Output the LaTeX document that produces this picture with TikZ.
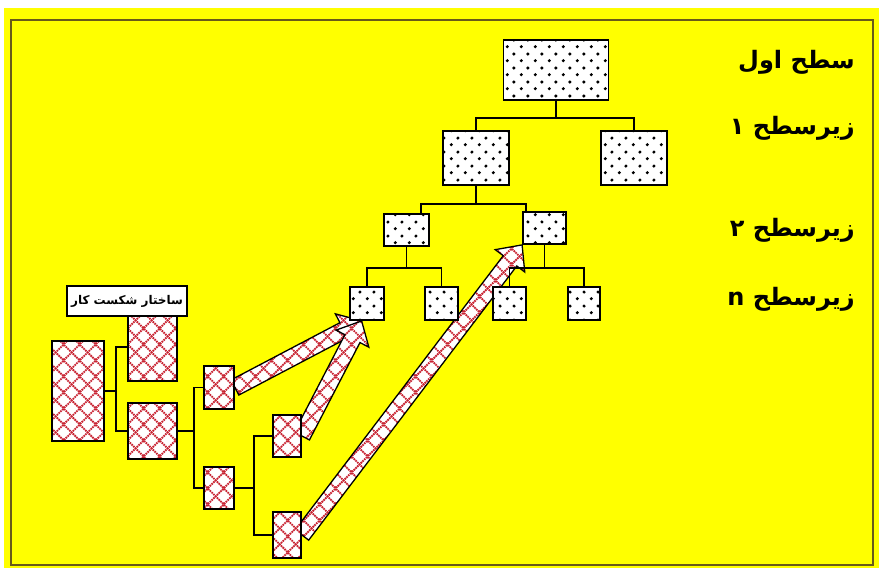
\documentclass[tikz,border=0pt]{standalone}
\usepackage{fontspec}
\newfontfamily\arabicfont[Script=Arabic]{DejaVu Sans}
\TeXXeTstate=1
\usetikzlibrary{patterns.meta,calc,backgrounds}

\definecolor{amarillo}{RGB}{255,255,0}
\definecolor{oliva}{RGB}{105,90,25}
\definecolor{rojo}{RGB}{200,35,50}

\tikzdeclarepattern{
  name=puntos, type=colored,
  bottom left={(0pt,0pt)}, top right={(14pt,14pt)}, tile size={(14pt,14pt)},
  code={
    \fill[black] (3.5pt,3.5pt) circle (1.8pt);
    \fill[black] (10.5pt,10.5pt) circle (1.8pt);
  }
}
\tikzdeclarepattern{
  name=rombos, type=colored,
  bottom left={(0pt,0pt)}, top right={(16pt,16pt)}, tile size={(16pt,16pt)},
  code={
    \draw[rojo, line width=1.9pt, dash pattern=on 1.8pt off 0.8pt] (0pt,0pt) -- (16pt,16pt);
    \draw[rojo, line width=1.9pt, dash pattern=on 1.8pt off 0.8pt] (0pt,16pt) -- (16pt,0pt);
  }
}

\tikzset{
  caja/.style={draw, line width=1.8pt, preaction={fill=white}, pattern=puntos, inner sep=0pt},
  cajawbs/.style={draw, line width=1.8pt, preaction={fill=white}, pattern=rombos, inner sep=0pt},
  rama/.style={line width=1.8pt},
  nivel/.style={font=\arabicfont\bfseries\fontsize{24}{28}\selectfont, inner sep=0pt},
  flecha/.style={draw, line width=1.3pt, preaction={fill=white}, pattern=rombos, line join=miter}
}

% flecha gorda de #1 a #2
\newcommand\flechagorda[2]{%
  \coordinate (cuello) at ($(#2)!20pt!(#1)$);
  \path[flecha] ($(#1)!8.5pt!90:(#2)$) -- ($(cuello)!8.5pt!-90:(#1)$) -- ($(cuello)!18.5pt!-90:(#1)$)
    -- (#2) -- ($(cuello)!18.5pt!90:(#1)$) -- ($(cuello)!8.5pt!90:(#1)$) -- ($(#1)!8.5pt!-90:(#2)$) -- cycle;}

\begin{document}
\begin{tikzpicture}[x=1pt, y=-1pt]
  \useasboundingbox (0,0) rectangle (879,568);
  \begin{scope}[on background layer]
    \fill[white] (0,0) rectangle (879,568);
    \fill[amarillo] (4,8) rectangle (879,568);
  \end{scope}
  \draw[oliva, line width=2pt] (11,20) rectangle (873,565);
  % el arbol de arriba
  \node[caja, minimum width=105, minimum height=60] (n0) at (556,70) {};
  \node[caja, minimum width=66, minimum height=54] (n1a) at (476,158) {};
  \node[caja, minimum width=66, minimum height=54] (n1b) at (634,158) {};
  \node[caja, minimum width=45, minimum height=32] (n2a) at (406.5,230) {};
  \node[caja, minimum width=43, minimum height=32] (n2b) at (544.5,228) {};
  \node[caja, minimum width=34, minimum height=33] (nn1) at (367,303.5) {};
  \node[caja, minimum width=33, minimum height=33] (nn2) at (441.5,303.5) {};
  \node[caja, minimum width=33, minimum height=33] (nn3) at (509.5,303.5) {};
  \node[caja, minimum width=32, minimum height=33] (nn4) at (584,303.5) {};
  \draw[rama] (n0.south) -- ++(0,17) -| (n1a.north);
  \draw[rama] (n0.south) ++(0,17) -| (n1b.north);
  \draw[rama] (n1a.south) -- ++(0,18) -| ([xshift=14.5pt]n2a.north);
  \draw[rama] (n1a.south) ++(0,18) -| ([xshift=-18.5pt]n2b.north);
  \draw[rama] (n2a.south) -- ++(0,21) -| (nn1.north);
  \draw[rama] (n2a.south) ++(0,21) -| (nn2.north);
  \draw[rama] (n2b.south) -- ++(0,23) -| (nn3.north);
  \draw[rama] (n2b.south) ++(0,23) -| (nn4.north);
  % los niveles
  \node[nivel, anchor=east] (s0) at (855,62) {\beginR سطح اول\endR};
  \node[nivel, anchor=east] (s1) at (855,128) {\beginR زیرسطح ۱\endR};
  \node[nivel, anchor=east] (s2) at (855,230) {\beginR زیرسطح ۲\endR};
  \node[nivel, anchor=east] (s3) at (855,299) {\beginR زیرسطح n\endR};
  % el arbol de la izquierda
  \node[cajawbs, minimum width=52, minimum height=100] (w0) at (78,391) {};
  \node[cajawbs, minimum width=49, minimum height=68] (w1a) at (152.5,347) {};
  \node[cajawbs, minimum width=49, minimum height=56] (w1b) at (152.5,431) {};
  \node[cajawbs, minimum width=30, minimum height=43] (w2a) at (219,387.5) {};
  \node[cajawbs, minimum width=30, minimum height=42] (w2b) at (219,488) {};
  \node[cajawbs, minimum width=28, minimum height=42] (w3a) at (287,436) {};
  \node[cajawbs, minimum width=28, minimum height=46] (w3b) at (287,535) {};
  \node[draw, line width=1.5pt, fill=white, minimum width=120, minimum height=30, inner sep=0pt,
    font=\arabicfont\bfseries\fontsize{12}{14}\selectfont] (wbs) at (127,301) {\beginR ساختار شکست کار\endR};
  \draw[rama] (w0.east) -- ++(11,0) |- (w1a.west);
  \draw[rama] (w0.east) ++(11,0) |- (w1b.west);
  \draw[rama] (w1b.east) -- ++(16,0) |- (w2a.west);
  \draw[rama] (w1b.east) ++(16,0) |- (w2b.west);
  \draw[rama] (w2b.east) -- ++(19,0) |- (w3a.west);
  \draw[rama] (w2b.east) ++(19,0) |- (w3b.west);
  % las flechas
  \coordinate (p1) at ($(nn1.south west)!0.35!(nn1.south east)$);
  \begin{scope}[on background layer]
    \flechagorda{w2a.east}{p1}
    \flechagorda{w3a.east}{p1}
    \flechagorda{w3b.east}{n2b.south west}
  \end{scope}
\end{tikzpicture}
\end{document}
